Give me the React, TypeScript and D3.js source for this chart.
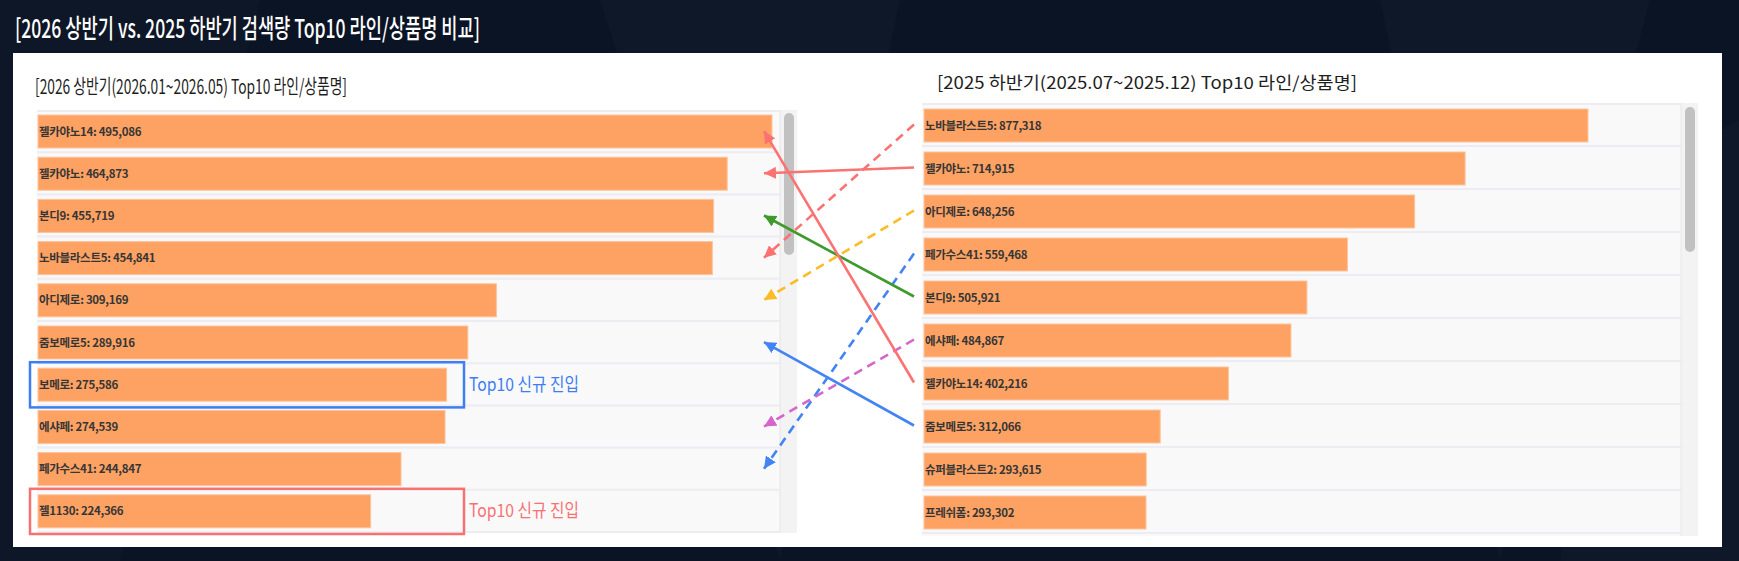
import React from 'react'
import * as d3 from 'd3'

// 2026 상반기 Top10
const leftNames = ['젤카야노14', '젤카야노', '본디9', '노바블라스트5', '아디제로', '줌보메로5', '보메로', '에샤페', '페가수스41', '젤1130']
const leftValues = [495086, 464873, 455719, 454841, 309169, 289916, 275586, 274539, 244847, 224366]

// 2025 하반기 Top10
const rightNames = ['노바블라스트5', '젤카야노', '아디제로', '페가수스41', '본디9', '에샤페', '젤카야노14', '줌보메로5', '슈퍼블라스트2', '프레쉬폼']
const rightValues = [877318, 714915, 648256, 559468, 505921, 484867, 402216, 312066, 293615, 293302]

// rank-change arrows (right -> left)
const linkNames = ['노바블라스트5', '젤카야노', '아디제로', '페가수스41', '본디9', '에샤페', '젤카야노14', '줌보메로5']
const linkColors = ['#fb7272', '#fb7272', '#fbbc24', '#4384f5', '#3f9a2c', '#d466cc', '#fb7272', '#4384f5']

// new entries in 2026
const newNames = ['보메로', '젤1130']
const newColors = ['#3d7ef2', '#f87171']
const newLabel = 'Top10 신규 진입'

const W = 1739
const H = 561
const FONT = '"Noto Sans CJK KR", "Noto Sans", sans-serif'
const BAR = '#fda263'
const fmt = d3.format(',')

export default function App() {
    const yL = d3.scaleBand<string>().domain(leftNames).range([110, 532])
    const xL = d3.scaleLinear().domain([0, d3.max(leftValues) as number]).range([38, 772])
    const yR = d3.scaleBand<string>().domain(rightNames).range([103, 533])
    const xR = d3.scaleLinear().domain([0, d3.max(rightValues) as number]).range([924, 1588])

    const panel = (
        names: string[], values: number[], y: d3.ScaleBand<string>, x: d3.ScaleLinear<number, number>,
        left: number, right: number, top: number, bottom: number, barOff: number, thumb: [number, number]
    ) => (
        <g>
            <rect x={left} y={top} width={right - left} height={bottom - top} fill="#f9f9fa" />
            <rect x={right} y={top} width={17} height={bottom - top} fill="#f3f3f3" />
            <line x1={right} x2={right} y1={top} y2={bottom} stroke="#e6e6e6" />
            <rect x={right + 4} y={thumb[0]} width={10} height={thumb[1] - thumb[0]} rx={5} fill="#c1c1c1" />
            {names.map((n) => (
                <line key={'s' + n} x1={left} x2={right} y1={(y(n) as number) + y.bandwidth()} y2={(y(n) as number) + y.bandwidth()}
                    stroke="#ececf2" strokeWidth={2} />
            ))}
            <line x1={left} x2={right} y1={top + 1} y2={top + 1} stroke="#ececf2" strokeWidth={2} />
            {names.map((n, i) => (
                <g key={n}>
                    <rect x={x(0)} y={(y(n) as number) + barOff} width={x(values[i]) - x(0)} height={33}
                        fill={BAR} stroke="#fdc49b" strokeWidth={1} />
                    <text x={x(0) + 1} y={(y(n) as number) + barOff + 16.5} dy="0.35em" fontSize={11.5} fontWeight={600}
                        fill="#363636" letterSpacing={-0.3} fontFamily={FONT}>
                        {n}: {fmt(values[i])}
                    </text>
                </g>
            ))}
        </g>
    )

    return (
        <div style={{ position: 'absolute', left: 0, top: 0 }}>
            <svg width={W} height={H} style={{ display: 'block' }}>
                <defs>
                    {linkColors.map((c, i) => (
                        <marker key={i} id={'arr' + i} viewBox="0 0 12 12" refX={12} refY={6} markerWidth={12} markerHeight={12}
                            markerUnits="userSpaceOnUse" orient="auto">
                            <path d="M0,0 L12,6 L0,12 z" fill={c} />
                        </marker>
                    ))}
                </defs>
                <rect width={W} height={H} fill="#0b1424" />
                <path d="M0,0 L260,0 L120,561 L0,561 z" fill="#ffffff" opacity={0.015} />
                <path d="M600,0 L900,0 L780,561 z" fill="#ffffff" opacity={0.02} />
                <path d="M1380,0 L1650,0 L1500,561 z" fill="#ffffff" opacity={0.018} />
                <path d="M1600,200 L1739,120 L1739,561 L1560,561 z" fill="#ffffff" opacity={0.02} />

                <text x={15} y={38} fontSize={26} fontWeight={500} fill="#ffffff" fontFamily={FONT}
                    textLength={465} lengthAdjust="spacingAndGlyphs">
                    [2026 상반기 vs. 2025 하반기 검색량 Top10 라인/상품명 비교]
                </text>

                <rect x={13} y={53} width={1709} height={494} fill="#ffffff" />

                <text x={35} y={94} fontSize={20} fill="#1e1e1e" fontFamily={FONT}
                    textLength={312} lengthAdjust="spacingAndGlyphs">
                    [2026 상반기(2026.01~2026.05) Top10 라인/상품명]
                </text>
                <text x={937} y={89} fontSize={17} fill="#1e1e1e" fontFamily={FONT}
                    textLength={420} lengthAdjust="spacingAndGlyphs">
                    [2025 하반기(2025.07~2025.12) Top10 라인/상품명]
                </text>

                {panel(leftNames, leftValues, yL, xL, 37, 780, 110, 533, 5, [113, 255])}
                {panel(rightNames, rightValues, yR, xR, 922, 1681, 103, 536, 6, [107, 252])}

                {newNames.map((n, i) => (
                    <g key={n}>
                        <rect x={30} y={(yL(n) as number) - 1} width={434} height={yL.bandwidth() + 3}
                            fill="none" stroke={newColors[i]} strokeWidth={2.5} />
                        <text x={469} y={(yL(n) as number) + yL.bandwidth() / 2} dy="0.35em" fontSize={18}
                            fill={newColors[i]} fontFamily={FONT} textLength={110} lengthAdjust="spacingAndGlyphs">
                            {newLabel}
                        </text>
                    </g>
                ))}

                {linkNames.map((n, i) => {
                    const ri = rightNames.indexOf(n)
                    const li = leftNames.indexOf(n)
                    return (
                        <line key={n}
                            x1={914} y1={(yR(n) as number) + yR.bandwidth() / 2}
                            x2={764} y2={(yL(n) as number) + yL.bandwidth() / 2}
                            stroke={linkColors[i]} strokeWidth={2.6}
                            strokeDasharray={li > ri ? '9,6' : undefined}
                            markerEnd={`url(#arr${i})`} />
                    )
                })}
            </svg>
        </div>
    )
}
